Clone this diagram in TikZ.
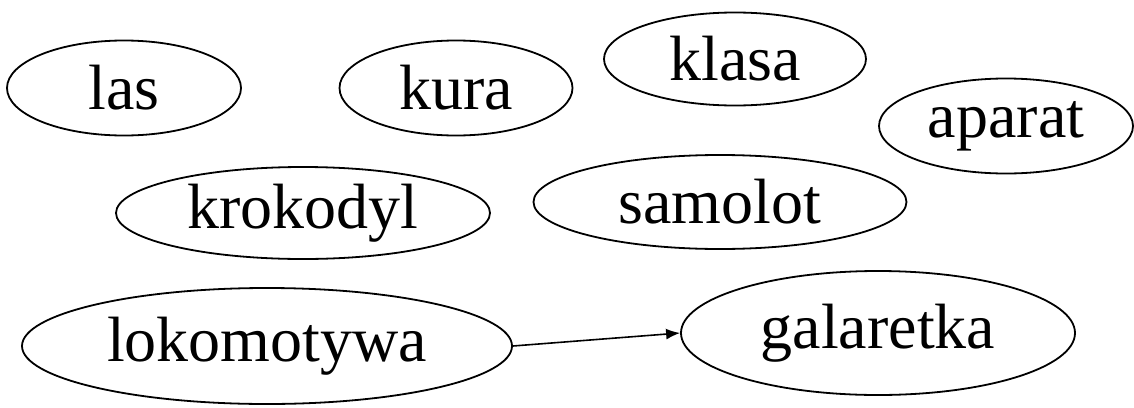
\documentclass[tikz,border=0pt]{standalone}
\usepackage{fontspec}
\setmainfont{Liberation Serif}
\usetikzlibrary{shapes.geometric,arrows.meta}

\begin{document}
\begin{tikzpicture}[x=1pt,y=-1pt,
        word/.style={draw,ellipse,line width=1.8pt,inner sep=0pt,
                     font=\fontsize{64}{64}\selectfont}]
        \useasboundingbox (0,0) rectangle (1134,407);

        % top rows
        \node[word,minimum width=234pt,minimum height=95pt] (las) at (124,88) {las};
        \node[word,minimum width=233pt,minimum height=95pt] (kura) at (456,88) {kura};
        \node[word,minimum width=262pt,minimum height=93pt] (klasa) at (735,59) {klasa};
        \node[word,minimum width=254pt,minimum height=95pt] (aparat) at (1006,126) {aparat};
        \node[word,minimum width=374pt,minimum height=92pt] (krokodyl) at (303,213) {krokodyl};
        \node[word,minimum width=373pt,minimum height=94pt] (samolot) at (720,202) {samolot};

        % bottom row with the arrow
        \node[word,minimum width=490pt,minimum height=116pt] (lokomotywa) at (267,346) {lokomotywa};
        \node[word,minimum width=394pt,minimum height=124pt] (galaretka) at (878,333) {galaretka};
        \draw[-{Latex[length=14pt,width=11pt]},line width=1.6pt]
            (lokomotywa.east) -- (galaretka.west);

    \end{tikzpicture}
\end{document}
